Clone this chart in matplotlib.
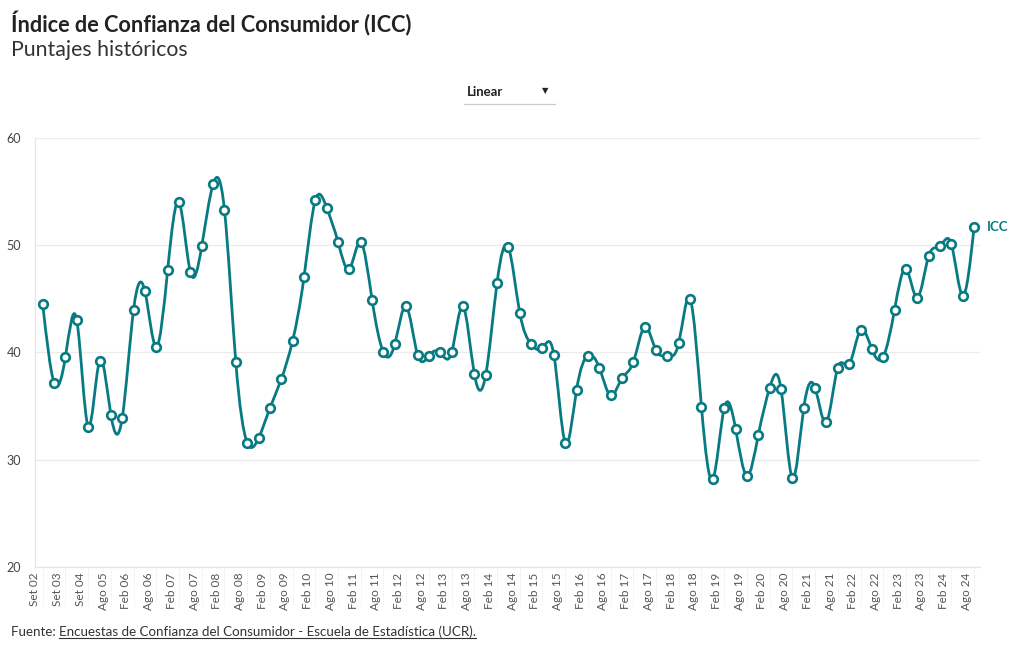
import numpy as np
import matplotlib as mpl; mpl.use('Agg')
import matplotlib.pyplot as plt
from matplotlib.path import Path
from matplotlib.patches import PathPatch
from matplotlib.lines import Line2D

mpl.rcParams.update({'font.family': ['Lato', 'DejaVu Sans']})
TEAL = '#087a82'

# 83 survey rounds, every other one labelled on the axis
labels = ['Set 02', 'Set 03', 'Set 04', 'Ago 05', 'Feb 06', 'Ago 06', 'Feb 07', 'Ago 07',
          'Feb 08', 'Ago 08', 'Feb 09', 'Ago 09', 'Feb 10', 'Ago 10', 'Feb 11', 'Ago 11',
          'Feb 12', 'Ago 12', 'Feb 13', 'Ago 13', 'Feb 14', 'Ago 14', 'Feb 15', 'Ago 15',
          'Feb 16', 'Ago 16', 'Feb 17', 'Ago 17', 'Feb 18', 'Ago 18', 'Feb 19', 'Ago 19',
          'Feb 20', 'Ago 20', 'Feb 21', 'Ago 21', 'Feb 22', 'Ago 22', 'Feb 23', 'Ago 23',
          'Feb 24', 'Ago 24']
icc = [44.5, 37.2, 39.6, 43.0, 33.1, 39.2, 34.2, 33.9, 44.0, 45.7,
       40.5, 47.7, 54.0, 47.5, 49.9, 55.7, 53.3, 39.1, 31.6, 32.0,
       34.8, 37.5, 41.1, 47.0, 54.2, 53.5, 50.3, 47.8, 50.3, 44.9,
       40.0, 40.8, 44.3, 39.8, 39.7, 40.0, 40.0, 44.3, 38.0, 37.9,
       46.5, 49.8, 43.7, 40.8, 40.4, 39.8, 31.6, 36.5, 39.7, 38.6,
       36.0, 37.6, 39.1, 42.4, 40.2, 39.7, 40.9, 45.0, 34.9, 28.2,
       34.8, 32.9, 28.5, 32.3, 36.7, 36.6, 28.3, 34.8, 36.7, 33.5,
       38.6, 38.9, 42.1, 40.3, 39.6, 44.0, 47.8, 45.1, 49.0, 49.9,
       50.1, 45.3, 51.7]

y = np.array(icc)
x = np.arange(len(y))
n = len(y)

fig = plt.figure(figsize=(10.2, 6.5), dpi=100)
W, H = 1020, 650
ax = fig.add_axes([35 / W, 1 - 567 / H, (980 - 35) / W, (567 - 138) / H])

# natural cubic spline drawn as bezier segments (like d3.curveNatural)
A = np.zeros((n, n)); r = np.zeros(n)
A[0, 0], A[0, 1], r[0] = 2, 1, 3 * (y[1] - y[0])
for i in range(1, n - 1):
    A[i, i - 1], A[i, i], A[i, i + 1] = 1, 4, 1
    r[i] = 3 * (y[i + 1] - y[i - 1])
A[-1, -2], A[-1, -1], r[-1] = 1, 2, 3 * (y[-1] - y[-2])
D = np.linalg.solve(A, r)
verts = [(x[0], y[0])]; codes = [Path.MOVETO]
for i in range(n - 1):
    verts += [(x[i] + 1 / 3, y[i] + D[i] / 3), (x[i + 1] - 1 / 3, y[i + 1] - D[i + 1] / 3),
              (x[i + 1], y[i + 1])]
    codes += [Path.CURVE4] * 3
ax.add_patch(PathPatch(Path(verts, codes), fc='none', ec=TEAL, lw=2.0, zorder=3,
                       capstyle='round', joinstyle='round'))
ax.plot(x, y, 'o', ms=6.2, mfc='white', mec=TEAL, mew=1.9, zorder=4)

ax.annotate('ICC', xy=(x[-1], y[-1]), xytext=(9, 0), textcoords='offset points',
            fontsize=9.5, fontweight='bold', color=TEAL, va='center', ha='left',
            arrowprops=dict(arrowstyle='-', color=TEAL, lw=0.8, shrinkA=4, shrinkB=1))

ax.set_xlim(-0.6, n - 1 + 0.52)
ax.set_ylim(20, 60)
ax.set_yticks([20, 30, 40, 50, 60])
ax.grid(axis='y', color='#ebebeb', lw=0.9)
ax.set_axisbelow(True)
for s in ['top', 'right']:
    ax.spines[s].set_visible(False)
for s in ['left', 'bottom']:
    ax.spines[s].set_color('#e6e6e6'); ax.spines[s].set_linewidth(0.9)
ax.tick_params(axis='y', length=0, pad=10, labelsize=9, labelcolor='#444444')
pos = x[::2] - 0.68
ax.set_xticks(pos)
ax.set_xticklabels(labels, rotation=90, fontsize=8.5, color='#555555')
ax.tick_params(axis='x', length=0, pad=4)
ax.vlines(x[::2], 0, -0.09, transform=ax.get_xaxis_transform(), colors='#e4e4e4',
          lw=0.7, linestyles=':', clip_on=False)

fig.text(11 / W, 1 - 24 / H, 'Índice de Confianza del Consumidor (ICC)', fontsize=15.7,
         fontweight='bold', color='#222222', va='center', ha='left')
fig.text(11 / W, 1 - 50 / H, 'Puntajes históricos', fontsize=15.3, color='#333333',
         va='center', ha='left')

# dropdown
fig.text(467 / W, 1 - 92 / H, 'Linear', fontsize=9.5, fontweight='bold', color='#222222',
         va='center', ha='left')
fig.text(545 / W, 1 - 91 / H, '▼', fontsize=6, color='#222222', va='center', ha='center',
         family='DejaVu Sans', transform=fig.transFigure)
fig.add_artist(Line2D([464 / W, 555 / W], [1 - 104 / H, 1 - 104 / H], color='#cccccc', lw=0.9))

# footer with underlined source
t1 = fig.text(11 / W, 1 - 636 / H, 'Fuente: ', fontsize=9.6, color='#333333', va='baseline')
fig.canvas.draw()
r = fig.canvas.get_renderer()
bb = t1.get_window_extent(r)
t2 = fig.text(bb.x1 / W, 1 - 636 / H, 'Encuestas de Confianza del Consumidor - Escuela de Estadística (UCR).',
              fontsize=9.6, color='#333333', va='baseline')
bb2 = t2.get_window_extent(r)
uy = (H - 636 - 2) / H
fig.add_artist(Line2D([bb2.x0 / W, bb2.x1 / W], [uy, uy], color='#333333', lw=0.8))

fig.savefig('out.png', dpi=100)
